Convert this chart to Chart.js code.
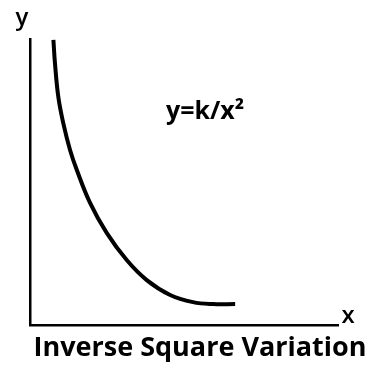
<!DOCTYPE html>
<html>
<head>
<meta charset="utf-8">
<script src="https://cdn.jsdelivr.net/npm/chart.js@4.4.1/dist/chart.umd.min.js"></script>
<style>
  html, body { margin: 0; padding: 0; background: #fff; }
  #wrap { width: 370px; height: 365px; }
</style>
</head>
<body>
<div id="wrap"><canvas id="curve"></canvas></div>
<script>
// points (arbitrary units, axes span 0..10)
const xValues = [0.76, 0.81, 0.92, 1.08, 1.30, 1.52, 1.95, 2.49, 3.14, 3.79, 4.55, 5.29, 5.94, 6.66];
const yValues = [9.97, 9.16, 7.97, 7.06, 6.12, 5.42, 4.27, 3.22, 2.27, 1.57, 1.05, 0.80, 0.73, 0.73];

const titleText = 'Inverse Square Variation';
const formulaText = 'y=k/x²';
const xLabel = 'x';
const yLabel = 'y';

const points = xValues.map((x, i) => ({ x: x, y: yValues[i] }));

// axis letters, formula and caption drawn on top
const labelsPlugin = {
  id: 'labels',
  afterDraw(chart) {
    const ctx = chart.ctx;
    const a = chart.chartArea;
    ctx.save();
    ctx.fillStyle = '#000';
    ctx.textBaseline = 'alphabetic';

    ctx.font = '600 24px "Open Sans"';
    ctx.textAlign = 'center';
    ctx.fillText(yLabel, a.left - 8, a.top - 14);
    ctx.fillText(xLabel, a.right + 10, a.bottom - 2);

    ctx.font = 'bold 25px "Open Sans"';
    ctx.textAlign = 'left';
    ctx.fillText(formulaText, 166, 119);

    ctx.font = 'bold 27px "Open Sans"';
    ctx.textAlign = 'center';
    ctx.fillText(titleText, 200, 356);
    ctx.restore();
  }
};

new Chart(document.getElementById('curve'), {
  type: 'scatter',
  data: {
    datasets: [{
      data: points,
      showLine: true,
      borderColor: '#000',
      borderWidth: 4,
      pointRadius: 0,
      tension: 0.4,
      fill: false
    }]
  },
  options: {
    responsive: true,
    maintainAspectRatio: false,
    animation: false,
    layout: { padding: { left: 30, top: 39, right: 32, bottom: 40 } },
    plugins: {
      legend: { display: false },
      tooltip: { enabled: false },
      title: { display: false }
    },
    scales: {
      x: {
        type: 'linear', min: 0, max: 10,
        grid: { display: false, drawTicks: false },
        ticks: { display: false },
        border: { display: true, color: '#000', width: 2.5 }
      },
      y: {
        type: 'linear', min: 0, max: 10,
        grid: { display: false, drawTicks: false },
        ticks: { display: false },
        border: { display: true, color: '#000', width: 2.5 }
      }
    }
  },
  plugins: [labelsPlugin]
});
</script>
</body>
</html>
